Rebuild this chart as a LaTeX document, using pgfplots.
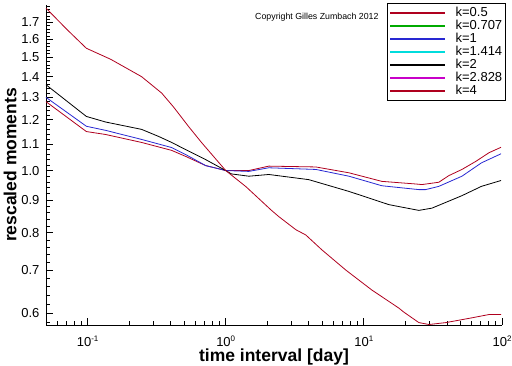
\documentclass[border=0pt]{standalone}
\usepackage{pgfplots}
\pgfplotsset{compat=1.18}
\usepackage{fontspec}
\setmainfont{Liberation Sans}
\definecolor{dred}{RGB}{175,0,30}
\definecolor{dgreen}{RGB}{0,170,0}
\definecolor{dblue}{RGB}{40,40,210}
\definecolor{dcyan}{RGB}{0,220,220}
\definecolor{dmag}{RGB}{200,0,200}
\begin{document}
\begin{tikzpicture}
\useasboundingbox (-46pt,-41pt) rectangle (466pt,325pt);
\begin{axis}[
  at={(0pt,0pt)}, anchor=south west,
  scale only axis, width=456pt, height=320pt,
  xmode=log, ymode=log,
  xmin=0.05, xmax=100, ymin=0.575, ymax=1.81,
  axis lines=left, axis line style={-, line width=0.8pt},
  tick align=inside, tick style={black, line width=0.8pt},
  major tick length=7pt, minor tick length=4pt,
  xtick={0.1,1,10,100},
  xticklabels={10\raisebox{5pt}{\fontsize{8}{8}\selectfont -1},10\raisebox{5pt}{\fontsize{8}{8}\selectfont 0},10\raisebox{5pt}{\fontsize{8}{8}\selectfont 1},10\raisebox{5pt}{\fontsize{8}{8}\selectfont 2}},
  minor xtick={0.05,0.06,0.07,0.08,0.09,0.2,0.3,0.4,0.5,0.6,0.7,0.8,0.9,2,3,4,5,6,7,8,9,20,30,40,50,60,70,80,90},
  ytick={0.6,0.7,0.8,0.9,1.0,1.1,1.2,1.3,1.4,1.5,1.6,1.7},
  yticklabels={0.6,0.7,0.8,0.9,1.0,1.1,1.2,1.3,1.4,1.5,1.6,1.7},
  minor ytick={0.58,0.62,0.64,0.66,0.68,0.72,0.74,0.76,0.78,0.82,0.84,0.86,0.88,0.92,0.94,0.96,0.98,1.02,1.04,1.06,1.08,1.12,1.14,1.16,1.18,1.22,1.24,1.26,1.28,1.32,1.34,1.36,1.38,1.42,1.44,1.46,1.48,1.52,1.54,1.56,1.58,1.62,1.64,1.66,1.68,1.72,1.74,1.76,1.78,1.8},
  ticklabel style={font=\fontsize{13}{13}\selectfont},
  yticklabel style={xshift=-3pt},
  xticklabel style={yshift=-7pt},
  xlabel={\bfseries time interval [day]},
  ylabel={\bfseries rescaled moments},
  xlabel style={font=\fontsize{17.5}{18}\selectfont, yshift=4pt},
  ylabel style={font=\fontsize{17.5}{18}\selectfont, yshift=-2pt},
  clip=false,
  legend style={at={(0.748,1.006)}, anchor=north west, draw=black, line width=0.8pt,
    font=\fontsize{13}{13}\selectfont, row sep=0pt, column sep=9pt,
    nodes={inner sep=1pt, text height=9pt, text depth=2pt},
    inner xsep=2pt, inner ysep=3pt},
  legend cell align=left,
  legend image code/.code={\draw[line width=1.1pt, #1] (0pt,0pt) -- (55pt,0pt);},
  every axis plot/.append style={line width=0.8pt},
]
\addlegendimage{draw=dred}
\addlegendentry{k=0.5}
\addlegendimage{draw=dgreen}
\addlegendentry{k=0.707}
\addlegendimage{draw=dblue}
\addlegendentry{k=1}
\addlegendimage{draw=dcyan}
\addlegendentry{k=1.414}
\addlegendimage{draw=black}
\addlegendentry{k=2}
\addlegendimage{draw=dmag}
\addlegendentry{k=2.828}
\addlegendimage{draw=dred}
\addlegendentry{k=4}
\addplot[dred, forget plot] coordinates {(0.05,1.28)(0.098,1.15)(0.135,1.138)(0.246,1.106)(0.406,1.075)(0.513,1.052)(0.716,1.018)(1,1.0)(1.47,1.0)(2.05,1.016)(4.49,1.013)(7.8,0.992)(13.5,0.962)(23.8,0.953)(26.3,0.951)(34.9,0.959)(41.2,0.982)(51.3,1.004)(64.9,1.034)(80.5,1.066)(98.4,1.087)};
\addplot[dblue, forget plot] coordinates {(0.05,1.30)(0.098,1.172)(0.135,1.155)(0.246,1.118)(0.406,1.086)(0.513,1.059)(0.716,1.018)(1,1.0)(1.47,0.997)(2.05,1.01)(4.49,1.004)(7.8,0.98)(13.5,0.947)(25,0.934)(28,0.934)(34.9,0.945)(51.3,0.98)(71,1.028)(98.4,1.062)};
\addplot[black, forget plot] coordinates {(0.05,1.36)(0.098,1.214)(0.135,1.19)(0.246,1.159)(0.327,1.13)(0.406,1.106)(0.513,1.078)(0.716,1.04)(1,1.0)(1.1,0.988)(1.47,0.98)(2.05,0.986)(3.99,0.968)(7.8,0.928)(15.2,0.885)(25,0.867)(31.1,0.874)(51.3,0.914)(71,0.945)(98.4,0.965)};
\addplot[dred, forget plot] coordinates {(0.05,1.79)(0.0705,1.66)(0.098,1.55)(0.147,1.49)(0.246,1.40)(0.344,1.32)(0.42,1.255)(0.54,1.17)(0.67,1.105)(1,1.0)(1.4,0.944)(2.12,0.869)(2.42,0.848)(3.22,0.809)(3.8,0.794)(4.96,0.753)(7.41,0.70)(11.4,0.652)(17.9,0.611)(19.5,0.602)(25,0.58)(29.6,0.576)(39.3,0.58)(48.8,0.585)(60.6,0.59)(80.5,0.597)(98.4,0.597)};
\node[font=\fontsize{8.8}{9}\selectfont] at (rel axis cs:0.594,0.9625) {Copyright Gilles Zumbach 2012};
\end{axis}
\end{tikzpicture}
\end{document}
